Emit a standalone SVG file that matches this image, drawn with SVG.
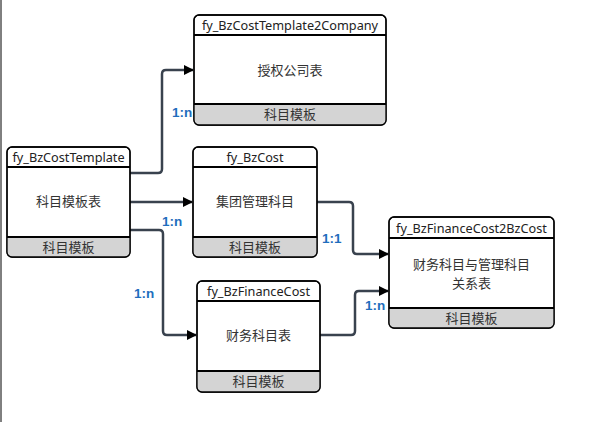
<svg xmlns="http://www.w3.org/2000/svg" width="611" height="422" viewBox="0 0 611 422">
<defs>
<style>
.box{fill:#fff;stroke:#000;stroke-width:1.3}
.foot{fill:#d4d4d4}
.sep{stroke:#000;stroke-width:2}
.t{font-family:"Noto Sans","Noto Sans CJK SC",sans-serif;font-size:12.7px;fill:#222;text-anchor:middle}
.c{font-family:"Noto Sans CJK SC","Noto Sans",sans-serif;font-size:13px;fill:#333;text-anchor:middle}
.lbl{font-family:"Liberation Sans",Arial,sans-serif;font-size:13.5px;font-weight:bold;fill:#1f6ebd}
.conn{fill:none;stroke:#39424e;stroke-width:2.5;stroke-linejoin:round}
</style>
<marker id="arr" markerWidth="10" markerHeight="10" refX="9" refY="5" orient="auto" markerUnits="userSpaceOnUse">
<path d="M0,0 L10,5 L0,10 z" fill="#000"/>
</marker>
<clipPath id="c1"><rect x="194" y="15" width="192" height="110" rx="5"/></clipPath>
<clipPath id="c2"><rect x="7" y="147" width="123" height="110" rx="5"/></clipPath>
<clipPath id="c3"><rect x="193" y="147" width="124" height="110" rx="5"/></clipPath>
<clipPath id="c4"><rect x="197" y="281" width="123" height="111" rx="5"/></clipPath>
<clipPath id="c5"><rect x="389" y="217" width="165" height="111" rx="5"/></clipPath>
</defs>
<line x1="1" y1="0" x2="1" y2="422" stroke="#000" stroke-width="1"/>
<g id="connectors">
<path class="conn" d="M130,173 H158 Q162,173 162,169 V74 Q162,70 166,70 H193" marker-end="url(#arr)"/>
<path class="conn" d="M130,202 H192" marker-end="url(#arr)"/>
<path class="conn" d="M130,230 H159 Q163,230 163,234 V331 Q163,335 167,335 H196" marker-end="url(#arr)"/>
<path class="conn" d="M317,202 H349 Q353,202 353,206 V250 Q353,254 357,254 H388" marker-end="url(#arr)"/>
<path class="conn" d="M320,335 H351 Q355,335 355,331 V295 Q355,291 359,291 H388" marker-end="url(#arr)"/>
<text class="lbl" x="172" y="117">1:n</text>
<text class="lbl" x="162" y="226">1:n</text>
<text class="lbl" x="134" y="298">1:n</text>
<text class="lbl" x="322" y="243">1:1</text>
<text class="lbl" x="365" y="310">1:n</text>
</g>
<g id="node1">
<rect class="box" x="194" y="15" width="192" height="110" rx="5"/>
<rect class="foot" x="194" y="104" width="192" height="21" clip-path="url(#c1)"/>
<rect x="194" y="15" width="192" height="110" rx="5" fill="none" stroke="#000" stroke-width="1.3"/>
<line class="sep" x1="194" y1="35" x2="386" y2="35"/>
<line class="sep" x1="194" y1="104" x2="386" y2="104"/>
<text class="t" x="290" y="30">fy_BzCostTemplate2Company</text>
<text class="c" x="290" y="75">授权公司表</text>
<text class="c" x="290" y="119">科目模板</text>
</g>
<g id="node2">
<rect class="box" x="7" y="147" width="123" height="110" rx="5"/>
<rect class="foot" x="7" y="237" width="123" height="20" clip-path="url(#c2)"/>
<rect x="7" y="147" width="123" height="110" rx="5" fill="none" stroke="#000" stroke-width="1.3"/>
<line class="sep" x1="7" y1="167" x2="130" y2="167"/>
<line class="sep" x1="7" y1="237" x2="130" y2="237"/>
<text class="t" x="68.5" y="162">fy_BzCostTemplate</text>
<text class="c" x="68.5" y="206">科目模板表</text>
<text class="c" x="68.5" y="252">科目模板</text>
</g>
<g id="node3">
<rect class="box" x="193" y="147" width="124" height="110" rx="5"/>
<rect class="foot" x="193" y="237" width="124" height="20" clip-path="url(#c3)"/>
<rect x="193" y="147" width="124" height="110" rx="5" fill="none" stroke="#000" stroke-width="1.3"/>
<line class="sep" x1="193" y1="167" x2="317" y2="167"/>
<line class="sep" x1="193" y1="237" x2="317" y2="237"/>
<text class="t" x="255" y="162">fy_BzCost</text>
<text class="c" x="255" y="206">集团管理科目</text>
<text class="c" x="255" y="252">科目模板</text>
</g>
<g id="node4">
<rect class="box" x="197" y="281" width="123" height="111" rx="5"/>
<rect class="foot" x="197" y="371" width="123" height="21" clip-path="url(#c4)"/>
<rect x="197" y="281" width="123" height="111" rx="5" fill="none" stroke="#000" stroke-width="1.3"/>
<line class="sep" x1="197" y1="301" x2="320" y2="301"/>
<line class="sep" x1="197" y1="371" x2="320" y2="371"/>
<text class="t" x="258.5" y="296">fy_BzFinanceCost</text>
<text class="c" x="258.5" y="340">财务科目表</text>
<text class="c" x="258.5" y="386">科目模板</text>
</g>
<g id="node5">
<rect class="box" x="389" y="217" width="165" height="111" rx="5"/>
<rect class="foot" x="389" y="308" width="165" height="20" clip-path="url(#c5)"/>
<rect x="389" y="217" width="165" height="111" rx="5" fill="none" stroke="#000" stroke-width="1.3"/>
<line class="sep" x1="389" y1="238" x2="554" y2="238"/>
<line class="sep" x1="389" y1="308" x2="554" y2="308"/>
<text class="t" x="471.5" y="233">fy_BzFinanceCost2BzCost</text>
<text class="c" x="471.5" y="269">财务科目与管理科目</text>
<text class="c" x="471.5" y="288">关系表</text>
<text class="c" x="471.5" y="323">科目模板</text>
</g>
</svg>
